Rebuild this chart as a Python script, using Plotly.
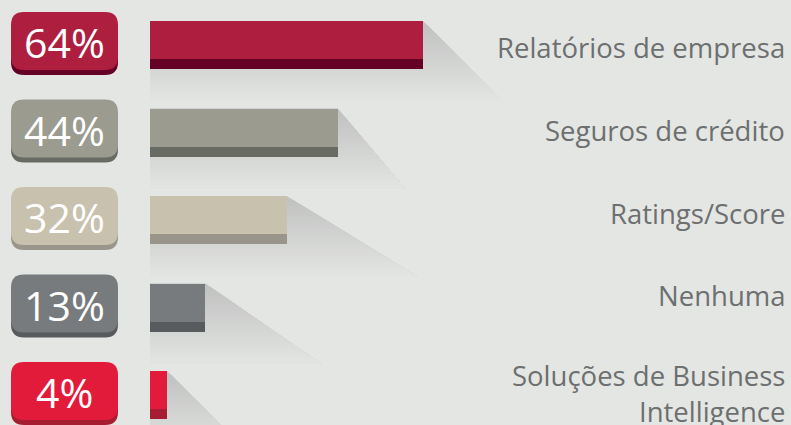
import plotly.graph_objects as go

# ---- data ----
categories = ["Relatórios de empresa", "Seguros de crédito", "Ratings/Score",
              "Nenhuma", "Soluções de Business<br>Intelligence"]
values = [64, 44, 32, 13, 4]
value_labels = ["64%", "44%", "32%", "13%", "4%"]

# ---- style ----
main_colors = ["#ad1e3f", "#9b9b8f", "#c8c1ae", "#777b7e", "#e21b3a"]
dark_colors = ["#660126", "#686b63", "#9a958a", "#585b5e", "#a61c31"]
shadow_len_px = [80, 67, 130, 115, 80]
label_shift_px = [2.5, -2, -7, -12, -2]
BG = (228, 230, 227)
SH = (192, 193, 192)

W, H = 791, 425
K = 4.267          # px per percent
X0 = 150           # px of value 0
P = 87.5           # px per category step
Y0 = 45            # px of first category center

def vx(px):  # pixel x -> data x
    return (px - X0) / K

def vy(py):  # pixel y -> data y
    return (py - Y0) / P

n = len(values)
idx = list(range(n))

fig = go.Figure()
shapes = []
annotations = []

# shadows (vertical gradient, nested polygons)
NS = 24
SHH = 80
for i, v in enumerate(values):
    c = Y0 + P * i
    top = c - 24
    xe = X0 + K * v
    d = shadow_len_px[i]
    for k in range(NS):
        ya = SHH * k / NS
        t = k / NS
        col = tuple(int(round(SH[j] + (BG[j] - SH[j]) * t)) for j in range(3))
        pts = [(X0, top + ya), (xe + d * ya / SHH, top + ya),
               (xe + d, top + SHH), (X0, top + SHH)]
        path = "M " + " L ".join(f"{vx(px):.4f},{vy(py):.4f}" for px, py in pts) + " Z"
        shapes.append(dict(type="path", path=path, xref="x", yref="y",
                           fillcolor="rgb(%d,%d,%d)" % col, line=dict(width=0),
                           layer="below"))

def rrect(x0, y0, x1, y1, r):
    s = (f"M {vx(x0 + r)},{vy(y0)} L {vx(x1 - r)},{vy(y0)} "
         f"Q {vx(x1)},{vy(y0)} {vx(x1)},{vy(y0 + r)} "
         f"L {vx(x1)},{vy(y1 - r)} Q {vx(x1)},{vy(y1)} {vx(x1 - r)},{vy(y1)} "
         f"L {vx(x0 + r)},{vy(y1)} Q {vx(x0)},{vy(y1)} {vx(x0)},{vy(y1 - r)} "
         f"L {vx(x0)},{vy(y0 + r)} Q {vx(x0)},{vy(y0)} {vx(x0 + r)},{vy(y0)} Z")
    return s

# badges
for i in range(n):
    c = Y0 + P * i
    t, b = c - 33, c + 30
    shapes.append(dict(type="path", path=rrect(11, t + 6, 118, b, 13), xref="x", yref="y",
                       fillcolor=dark_colors[i], line=dict(width=0), layer="above"))
    shapes.append(dict(type="path", path=rrect(11, t, 118, b - 5, 13), xref="x", yref="y",
                       fillcolor=main_colors[i], line=dict(width=0), layer="above"))
    annotations.append(dict(x=vx(64.5), y=vy(c - 3), xref="x", yref="y",
                            text=value_labels[i], showarrow=False,
                            xanchor="center", yanchor="middle",
                            font=dict(family="Open Sans", size=41, color="white")))
    annotations.append(dict(x=vx(787), y=vy(c + label_shift_px[i]), xref="x", yref="y",
                            text=categories[i], showarrow=False, align="right",
                            xanchor="right", yanchor="middle",
                            font=dict(family="Open Sans", size=27.5, color="#6d6f70")))

# bars: dark base, lighter top part
fig.add_trace(go.Bar(orientation="h", x=values, y=idx, base=0, width=48 / P,
                     marker=dict(color=dark_colors, line=dict(width=0)),
                     hoverinfo="skip", showlegend=False))
fig.add_trace(go.Bar(orientation="h", x=values, y=idx, base=0, width=38 / P,
                     offset=-24 / P,
                     marker=dict(color=main_colors, line=dict(width=0)),
                     hoverinfo="skip", showlegend=False))

bg = "rgb(%d,%d,%d)" % BG
fig.update_layout(
    width=W, height=H, margin=dict(l=0, r=0, t=0, b=0),
    paper_bgcolor=bg, plot_bgcolor=bg,
    barmode="overlay", bargap=0,
    xaxis=dict(range=[vx(0), vx(W)], visible=False, fixedrange=True),
    yaxis=dict(range=[vy(H), vy(0)], visible=False, type="linear", fixedrange=True),
    shapes=shapes, annotations=annotations,
)

fig.write_html("out.html", config={"displayModeBar": False},
               post_script="document.body.style.margin='0';document.body.style.overflow='hidden';")
